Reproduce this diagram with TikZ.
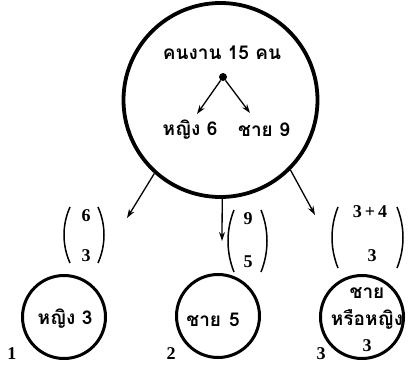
\documentclass[tikz,border=0pt]{standalone}
\usepackage{fontspec}
\setmainfont{Liberation Serif}
\newfontfamily\thai[Script=Thai]{Loma}
\usetikzlibrary{arrows.meta}
\begin{document}
\begin{tikzpicture}[x=1pt,y=-1pt,
  txt/.style={inner sep=0pt,font=\thai\bfseries\fontsize{19}{21}\selectfont},
  num/.style={inner sep=0pt,font=\bfseries\fontsize{18}{20}\selectfont},
  bigc/.style={circle,draw,line width=3.8pt,minimum size=194pt,inner sep=0pt},
  smallc/.style={circle,draw,line width=3pt,minimum size=83pt,inner sep=0pt},
  arr/.style={line width=1.3pt,-{Stealth[length=9pt,width=6pt]}},
  par/.style={line width=1.5pt}]
\useasboundingbox (0,0) rectangle (408,365);
% big circle
\node[bigc] (big) at (220.5,100) {};
\node[txt] (top) at (222,53) {คนงาน 15 คน};
\node[circle,fill,inner sep=0pt,minimum size=8pt] (dot) at (223,77) {};
\node[txt] (w) at (190,130) {หญิง 6};
\node[txt] (m) at (264,130) {ชาย 9};
\coordinate (tw) at (197,114);
\coordinate (tm) at (250,113);
\draw[arr] (dot) -- (tw);
\draw[arr] (dot) -- (tm);
% arrows down
\coordinate (a1) at (127,218);
\coordinate (a2) at (222,241);
\coordinate (a3) at (315,215);
\draw[arr] (big.228) -- (a1);
\draw[arr] (big.271) -- (a2);
\draw[arr] (big.315) -- (a3);
% binomials
\node[num] (b1t) at (86,216) {6};
\node[num] (b1b) at (86,256) {3};
\draw[par] (70,207) .. controls (62,225) and (62,245) .. (70,263);
\draw[par] (98,207) .. controls (106,225) and (106,245) .. (98,263);
\node[num] (b2t) at (248,219) {9};
\node[num] (b2b) at (248,262) {5};
\draw[par] (234,210) .. controls (226,230) and (226,252) .. (234,272);
\draw[par] (261,210) .. controls (269,230) and (269,252) .. (261,272);
\node[num] (b3t) at (370,212) {3\,+\,4};
\node[num] (b3b) at (372,256) {3};
\draw[par] (338,207) .. controls (330,227) and (330,248) .. (338,268);
\draw[par] (397,207) .. controls (405,227) and (405,248) .. (397,268);
% small circles
\node[smallc] (c1) at (64,317) {};
\node[smallc] (c2) at (218,316) {};
\node[smallc] (c3) at (362,317) {};
\node[txt] (c1t) at (65,319) {หญิง 3};
\node[txt] (c2t) at (213,320) {ชาย\hspace{8pt}5};
\node[txt] (c3a) at (367,293) {ชาย};
\node[txt] (c3b) at (367,319) {หรือหญิง};
\node[num] (c3c) at (367,346) {3};
\node[num] (l1) at (12,354) {1};
\node[num] (l2) at (171,354) {2};
\node[num] (l3) at (321,354) {3};
\end{tikzpicture}
\end{document}
